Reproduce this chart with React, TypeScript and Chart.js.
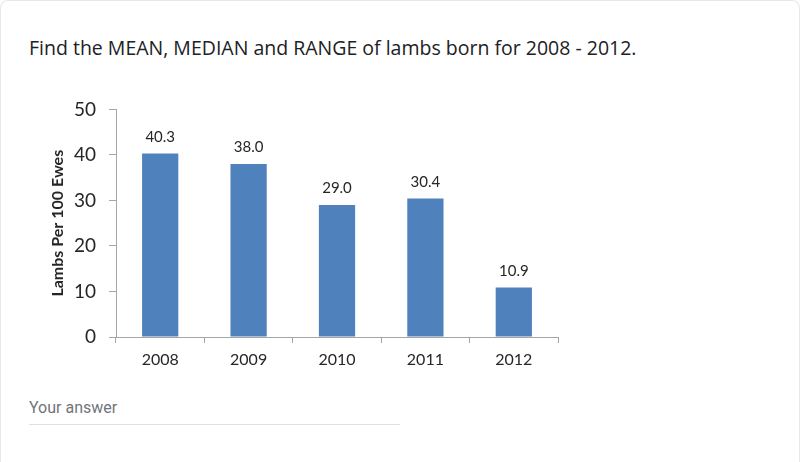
import React, { useEffect, useRef } from "react";
import { Chart, registerables } from "chart.js";

Chart.register(...registerables);

const years = ["2008", "2009", "2010", "2011", "2012"];
const lambsPer100Ewes = [40.3, 38.0, 29.0, 30.4, 10.9];
const valueLabels = ["40.3", "38.0", "29.0", "30.4", "10.9"];
const yAxisTitle = "Lambs Per 100 Ewes";
const yMin = 0;
const yMax = 50;
const yStep = 10;
const question = "Find the MEAN, MEDIAN and RANGE of lambs born for 2008 - 2012.";
const answerPlaceholder = "Your answer";

const AXIS_COLOR = "#a6a6a6";
const TEXT_COLOR = "#262626";
const CHART_FONT = "Lato, 'Open Sans', sans-serif";

const valueLabelPlugin = {
  id: "valueLabels",
  afterDatasetsDraw(chart: any) {
    const ctx = chart.ctx;
    const meta = chart.getDatasetMeta(0);
    ctx.save();
    ctx.font = `15px ${CHART_FONT}`;
    ctx.fillStyle = TEXT_COLOR;
    ctx.textAlign = "center";
    ctx.textBaseline = "bottom";
    meta.data.forEach((el: any, i: number) => {
      ctx.fillText(valueLabels[i], el.x, el.y - 9);
    });
    ctx.restore();
  },
};

export default function App() {
  const canvasRef = useRef<HTMLCanvasElement | null>(null);

  useEffect(() => {
    if (!canvasRef.current) return;
    const chart = new Chart(canvasRef.current, {
      type: "bar",
      data: {
        labels: years,
        datasets: [
          {
            data: lambsPer100Ewes,
            backgroundColor: "#4F81BD",
            borderWidth: 0,
            barPercentage: 0.41,
            categoryPercentage: 1,
          },
        ],
      },
      options: {
        animation: false,
        responsive: false,
        devicePixelRatio: 1,
        layout: { padding: { top: 0, right: 23, left: 0, bottom: 0 } },
        plugins: {
          legend: { display: false },
          tooltip: { enabled: false },
          title: { display: false },
        },
        scales: {
          x: {
            offset: true,
            grid: {
              offset: true,
              drawOnChartArea: false,
              drawTicks: true,
              tickLength: 6,
              color: AXIS_COLOR,
            },
            border: { display: true, color: AXIS_COLOR, width: 1 },
            ticks: {
              color: TEXT_COLOR,
              font: { family: CHART_FONT, size: 16 },
              padding: 7,
              maxRotation: 0,
            },
            afterFit: (scale: any) => {
              scale.height = 49;
            },
          },
          y: {
            min: yMin,
            max: yMax,
            ticks: {
              stepSize: yStep,
              color: TEXT_COLOR,
              font: { family: CHART_FONT, size: 19 },
              padding: 13,
            },
            grid: {
              drawOnChartArea: false,
              drawTicks: true,
              tickLength: 7,
              color: AXIS_COLOR,
            },
            border: { display: true, color: AXIS_COLOR, width: 1 },
            title: {
              display: true,
              text: yAxisTitle,
              color: TEXT_COLOR,
              font: { family: CHART_FONT, size: 16, weight: "bold" },
              padding: { top: 27, bottom: 0 },
            },
            afterFit: (scale: any) => {
              scale.width = 95;
            },
          },
        },
      },
      plugins: [valueLabelPlugin],
    });
    return () => chart.destroy();
  }, []);

  return (
    <div
      style={{
        position: "absolute",
        left: 0,
        top: 0,
        width: 800,
        height: 462,
        background: "#fff",
        overflow: "hidden",
        boxSizing: "border-box",
        borderLeft: "1px solid #e8e8e8",
        borderTop: "1px solid #e8e8e8",
        borderRight: "1px solid #e8e8e8",
        borderTopLeftRadius: 8,
        borderTopRightRadius: 8,
      }}
    >
      <div
        style={{
          position: "absolute",
          left: 28,
          top: 34,
          fontFamily: "'Open Sans', Roboto, sans-serif",
          fontSize: 19.5,
          color: "#202124",
          whiteSpace: "nowrap",
          lineHeight: "26px",
        }}
      >
        {question}
      </div>
      <canvas
        ref={canvasRef}
        width={560}
        height={301}
        style={{ position: "absolute", left: 20, top: 84, width: 560, height: 301 }}
      />
      <div
        style={{
          position: "absolute",
          left: 28,
          top: 397,
          fontFamily: "Roboto, 'Noto Sans', sans-serif",
          fontSize: 16,
          color: "#70757a",
          lineHeight: "20px",
        }}
      >
        {answerPlaceholder}
      </div>
      <div
        style={{
          position: "absolute",
          left: 28,
          top: 423,
          width: 371,
          height: 1,
          background: "#e0e0e0",
        }}
      />
    </div>
  );
}
